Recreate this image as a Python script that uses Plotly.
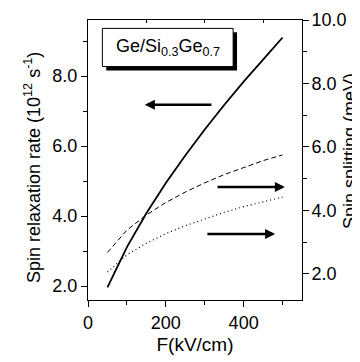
import plotly.graph_objects as go

F_kv_cm = [50, 100, 150, 200, 250, 300, 350, 400, 450, 500]
relaxation_rate = [1.96, 3.11, 4.08, 4.94, 5.73, 6.47, 7.17, 7.84, 8.47, 9.10]
splitting_dashed = [2.68, 3.38, 3.86, 4.25, 4.58, 4.87, 5.13, 5.36, 5.57, 5.75]
splitting_dotted = [2.06, 2.60, 2.97, 3.27, 3.52, 3.74, 3.94, 4.12, 4.28, 4.42]

FONT = "Liberation Sans, Arial, sans-serif"
FS = 18

fig = go.Figure()
fig.add_trace(go.Scatter(x=F_kv_cm, y=relaxation_rate, mode="lines",
                         line=dict(color="black", width=1.8), yaxis="y", showlegend=False))
fig.add_trace(go.Scatter(x=F_kv_cm, y=splitting_dashed, mode="lines",
                         line=dict(color="black", width=1, dash="5px,3px"), yaxis="y2", showlegend=False))
fig.add_trace(go.Scatter(x=F_kv_cm, y=splitting_dotted, mode="lines",
                         line=dict(color="black", width=1.2, dash="1px,3px"), yaxis="y2", showlegend=False))
fig.add_trace(go.Scatter(x=[0], y=[5], xaxis="x2", mode="markers",
                         marker=dict(opacity=0), showlegend=False, hoverinfo="skip"))

# page body has an 8px default margin: shrink figure and margins to compensate
fig.update_layout(
    width=352, height=354,
    margin=dict(l=80, r=58, t=12, b=62, autoexpand=False),
    paper_bgcolor="white", plot_bgcolor="white",
    font=dict(family=FONT, size=FS, color="black"),
    xaxis=dict(range=[0, 550], tickvals=[0, 200, 400], ticks="outside", ticklen=6,
               tickwidth=1, tickcolor="black", showline=True, linecolor="black", linewidth=1,
               showgrid=False, zeroline=False, automargin=False,
               minor=dict(tickvals=[100, 300, 500], ticks="outside", ticklen=4, tickcolor="black"),
               title=dict(text="F(kV/cm)", font=dict(size=19), standoff=6),
               tickfont=dict(size=FS)),
    xaxis2=dict(range=[0, 550], overlaying="x", side="top", anchor="y",
                tickvals=[150, 300, 450], ticks="inside", ticklen=3, tickcolor="black",
                showticklabels=False, showline=True, linecolor="black", linewidth=1,
                showgrid=False, zeroline=False, automargin=False),
    yaxis=dict(range=[1.6, 9.6], tickvals=[2, 4, 6, 8], tickformat=".1f", ticks="outside",
               ticklen=6, tickcolor="black", showline=True, linecolor="black", linewidth=1,
               showgrid=False, zeroline=False, automargin=False,
               minor=dict(tickvals=[3, 5, 7, 9], ticks="outside", ticklen=4, tickcolor="black"),
               tickfont=dict(size=FS)),
    yaxis2=dict(range=[1.18, 10], overlaying="y", side="right", tickvals=[2, 4, 6, 8, 10],
                tickformat=".1f", ticks="outside", ticklen=6, tickcolor="black",
                showline=True, linecolor="black", linewidth=1, showgrid=False, zeroline=False,
                automargin=False, ticklabelstandoff=-1,
                minor=dict(tickvals=[3, 5, 7, 9], ticks="outside", ticklen=4, tickcolor="black"),
                tickfont=dict(size=FS)),
)

fig.add_annotation(text="Spin relaxation rate (10<sup>12</sup> s<sup>-1</sup>)", textangle=-90,
                   xref="paper", yref="paper", x=(32 - 88) / 214, y=(300 - 168) / 280,
                   xanchor="center", yanchor="middle", showarrow=False,
                   font=dict(size=FS, family=FONT))
fig.add_annotation(text="Spin splitting (meV)", textangle=-90,
                   xref="paper", yref="paper", x=(350 - 88) / 214, y=(300 - 151) / 280,
                   xanchor="center", yanchor="middle", showarrow=False,
                   font=dict(size=FS, family=FONT))

fig.add_shape(type="rect", xref="x", yref="y", x0=47, x1=383, y0=8.16, y1=9.25,
              fillcolor="black", line=dict(width=0), layer="above")
fig.add_shape(type="rect", xref="x", yref="y", x0=37, x1=373, y0=8.27, y1=9.36,
              fillcolor="white", line=dict(color="black", width=1), layer="above")
fig.add_annotation(text="Ge/Si<sub>0.3</sub>Ge<sub>0.7</sub>", xref="x", yref="y",
                   x=205, y=8.82, showarrow=False, font=dict(size=FS, family=FONT))

fig.add_annotation(x=146, y=7.18, ax=321, ay=7.18, xref="x", yref="y", axref="x", ayref="y",
                   text="", showarrow=True, arrowhead=2, arrowsize=0.8, arrowwidth=2.5,
                   arrowcolor="black")
fig.add_annotation(x=506, y=4.74, ax=329, ay=4.74, xref="x", yref="y2", axref="x", ayref="y2",
                   text="", showarrow=True, arrowhead=2, arrowsize=0.8, arrowwidth=2.5,
                   arrowcolor="black")
fig.add_annotation(x=481, y=3.26, ax=303, ay=3.26, xref="x", yref="y2", axref="x", ayref="y2",
                   text="", showarrow=True, arrowhead=2, arrowsize=0.8, arrowwidth=2.5,
                   arrowcolor="black")

fig.write_html("out.html")
